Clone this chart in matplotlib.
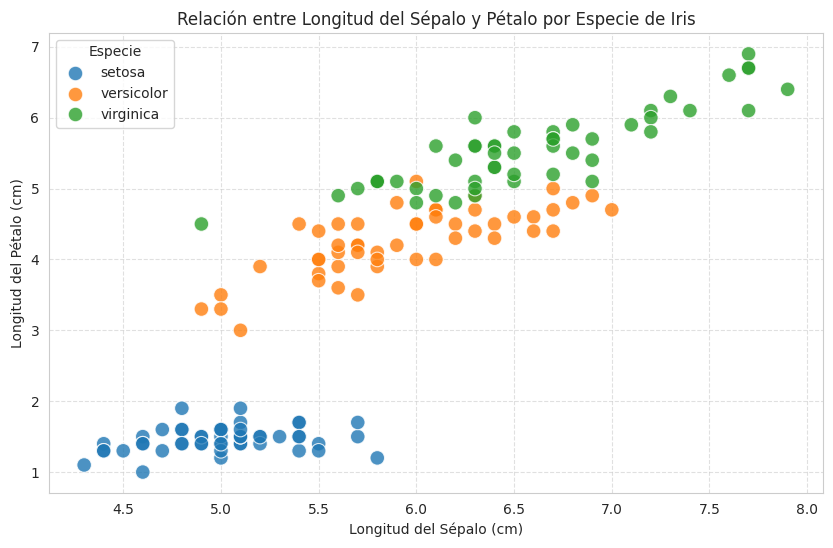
import matplotlib
matplotlib.use("Agg")
import matplotlib.pyplot as plt
import seaborn as sns
import pandas as pd

setosa_sl = [5.1,4.9,4.7,4.6,5.0,5.4,4.6,5.0,4.4,4.9,5.4,4.8,4.8,4.3,5.8,5.7,5.4,5.1,5.7,5.1,
             5.4,5.1,4.6,5.1,4.8,5.0,5.0,5.2,5.2,4.7,4.8,5.4,5.2,5.5,4.9,5.0,5.5,4.9,4.4,5.1,
             5.0,4.5,4.4,5.0,5.1,4.8,5.1,4.6,5.3,5.0]
setosa_pl = [1.4,1.4,1.3,1.5,1.4,1.7,1.4,1.5,1.4,1.5,1.5,1.6,1.4,1.1,1.2,1.5,1.3,1.4,1.7,1.5,
             1.7,1.5,1.0,1.7,1.9,1.6,1.6,1.5,1.4,1.6,1.6,1.5,1.5,1.4,1.5,1.2,1.3,1.4,1.3,1.5,
             1.3,1.3,1.3,1.6,1.9,1.4,1.6,1.4,1.5,1.4]
versicolor_sl = [7.0,6.4,6.9,5.5,6.5,5.7,6.3,4.9,6.6,5.2,5.0,5.9,6.0,6.1,5.6,6.7,5.6,5.8,6.2,5.6,
                 5.9,6.1,6.3,6.1,6.4,6.6,6.8,6.7,6.0,5.7,5.5,5.5,5.8,6.0,5.4,6.0,6.7,6.3,5.6,5.5,
                 5.5,6.1,5.8,5.0,5.6,5.7,5.7,6.2,5.1,5.7]
versicolor_pl = [4.7,4.5,4.9,4.0,4.6,4.5,4.7,3.3,4.6,3.9,3.5,4.2,4.0,4.7,3.6,4.4,4.5,4.1,4.5,3.9,
                 4.8,4.0,4.9,4.7,4.3,4.4,4.8,5.0,4.5,3.5,3.8,3.7,3.9,5.1,4.5,4.5,4.7,4.4,4.1,4.0,
                 4.4,4.6,4.0,3.3,4.2,4.2,4.2,4.3,3.0,4.1]
virginica_sl = [6.3,5.8,7.1,6.3,6.5,7.6,4.9,7.3,6.7,7.2,6.5,6.4,6.8,5.7,5.8,6.4,6.5,7.7,7.7,6.0,
                6.9,5.6,7.7,6.3,6.7,7.2,6.2,6.1,6.4,7.2,7.4,7.9,6.4,6.3,6.1,7.7,6.3,6.4,6.0,6.9,
                6.7,6.9,5.8,6.8,6.7,6.7,6.3,6.5,6.2,5.9]
virginica_pl = [6.0,5.1,5.9,5.6,5.8,6.6,4.5,6.3,5.8,6.1,5.1,5.3,5.5,5.0,5.1,5.3,5.5,6.7,6.9,5.0,
                5.7,4.9,6.7,4.9,5.7,6.0,4.8,4.9,5.6,5.8,6.1,6.4,5.6,5.1,5.6,6.1,5.6,5.5,4.8,5.4,
                5.6,5.1,5.1,5.9,5.7,5.2,5.0,5.2,5.4,5.1]

species = ["setosa", "versicolor", "virginica"]

df = pd.DataFrame({
    "sl": setosa_sl + versicolor_sl + virginica_sl,
    "pl": setosa_pl + versicolor_pl + virginica_pl,
    "Especie": ["setosa"] * len(setosa_sl) + ["versicolor"] * len(versicolor_sl) + ["virginica"] * len(virginica_sl),
})

sns.set_style("whitegrid")
fig = plt.figure(figsize=(8.33, 5.48), dpi=100)
ax = fig.add_axes([0.0588, 0.1004, 0.929, 0.8394])
sns.scatterplot(data=df, x="sl", y="pl", hue="Especie", hue_order=species,
                s=110, alpha=0.8, edgecolor="white", linewidth=0.8, ax=ax)
ax.grid(True, linestyle="--", alpha=0.6)
ax.set_title("Relación entre Longitud del Sépalo y Pétalo por Especie de Iris", fontsize=12)
ax.set_xlabel("Longitud del Sépalo (cm)")
ax.set_ylabel("Longitud del Pétalo (cm)")
ax.legend(title="Especie", loc="upper left")
fig.savefig("out.png", dpi=100)
